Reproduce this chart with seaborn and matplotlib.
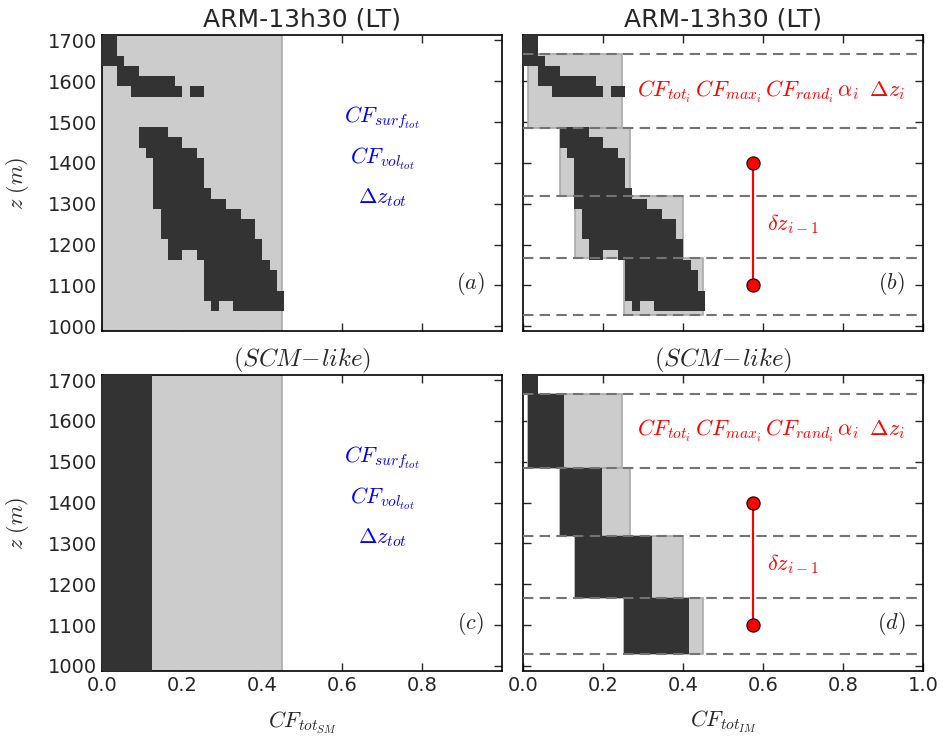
import numpy as np
import pandas as pd
import seaborn as sns
import matplotlib.pyplot as plt

sns.set_style("ticks", {"xtick.direction": "in", "ytick.direction": "in"})
plt.rcParams['font.family'] = ['DejaVu Sans']
plt.rcParams['mathtext.fontset'] = 'cm'

# cloud mask: row centre height (m) and cloudy column spans
# (columns are 1/55 wide in CF units, rows are 25 m thick)
mask_z = [1700, 1675, 1650, 1625, 1600, 1575,
          1475, 1450, 1425, 1400, 1375, 1350, 1325, 1300, 1275, 1250,
          1225, 1200, 1175, 1150, 1125, 1100, 1075, 1050]
mask_spans = [[(0, 2)], [(0, 2)], [(0, 3)], [(2, 5)], [(2, 10)], [(4, 11), (12, 14)],
              [(5, 9)], [(5, 11)], [(6, 13)], [(7, 14)], [(7, 14)], [(7, 14)],
              [(7, 15)], [(7, 17)], [(8, 19)], [(8, 21)], [(8, 21)], [(9, 22)],
              [(9, 11), (13, 22)], [(14, 23)], [(14, 24)], [(14, 24)], [(14, 25)],
              [(15, 16), (18, 25)]]
col_w = 1.0 / 55
row_h = 25.0

cf_surf_tot = 0.45
cf_vol_tot = 0.124

# layers (panels b, d)
layer_edges = [1667, 1485, 1319, 1166, 1028]
layer_x0 = [0.011, 0.092, 0.129, 0.2525]
layer_cf_tot = [0.235, 0.175, 0.269, 0.1975]
layer_cf_max = [0.0915, 0.1055, 0.192, 0.1615]
top_cap_z = 1712.5
top_cap_cf = 0.036

dz_x = 0.575
dz_z = [1100, 1400]

dark = '#333333'
light = '#cccccc'
light_edge = '#aaaaaa'

segs = pd.DataFrame([(z, a * col_w, (b - a) * col_w)
                     for z, sp in zip(mask_z, mask_spans) for a, b in sp],
                    columns=['z', 'left', 'width'])

fig = plt.figure(figsize=(9.43, 7.4), dpi=100)
L1, L2, W = 0.1085, 0.555, 0.4242
B1, B2, H = 0.5522, 0.0932, 0.4001
ax_a = fig.add_axes([L1, B1, W, H])
ax_b = fig.add_axes([L2, B1, W, H])
ax_c = fig.add_axes([L1, B2, W, H])
ax_d = fig.add_axes([L2, B2, W, H])


def style(ax):
    ax.set_xlim(0, 1)
    ax.set_ylim(987.5, 1712.5)
    ax.set_yticks(range(1000, 1701, 100))
    ax.tick_params(top=True, right=True, direction='in', length=6, width=1,
                   labelsize=14)
    for s in ax.spines.values():
        s.set_linewidth(1.2)
        s.set_color('k')


def draw_mask(ax):
    ax.barh(segs.z, segs.width, height=row_h, left=segs.left, color=dark,
            linewidth=0, zorder=3)


def draw_layers(ax, with_max):
    lo = np.array(layer_edges[1:])
    hi = np.array(layer_edges[:-1])
    ax.barh((lo + hi) / 2, layer_cf_tot, height=hi - lo, left=layer_x0,
            color=light, edgecolor=light_edge, linewidth=1.2, zorder=2)
    if with_max:
        ax.barh((lo + hi) / 2, layer_cf_max, height=hi - lo, left=layer_x0,
                color=dark, linewidth=0, zorder=3)
        ax.barh((top_cap_z + layer_edges[0]) / 2, top_cap_cf,
                height=top_cap_z - layer_edges[0], left=0, color=dark,
                linewidth=0, zorder=3)
    for z in layer_edges:
        ax.axhline(z, color='0.45', lw=1.5, ls=(0, (5, 3)), zorder=5)
    ax.plot([dz_x, dz_x], dz_z, color='red', lw=1.5, zorder=6)
    sns.scatterplot(x=[dz_x, dz_x], y=dz_z, ax=ax, color='red', s=90,
                    edgecolor='k', linewidth=0.8, zorder=7)
    ax.text(0.283, 1575, r'$CF_{tot_i}\,CF_{max_i}\,CF_{rand_i}\,\alpha_i\;\;\Delta z_i$',
            color='red', fontsize=16, ha='left', va='center')
    ax.text(0.608, 1250, r'$\delta z_{i-1}$', color='red', fontsize=16,
            ha='left', va='center')


def draw_single(ax, dark_cf):
    ax.barh((987.5 + 1712.5) / 2, cf_surf_tot, height=725, left=0, color=light,
            edgecolor=light_edge, linewidth=1.2, zorder=2)
    if dark_cf:
        ax.barh((987.5 + 1712.5) / 2, dark_cf, height=725, left=0, color=dark,
                linewidth=0, zorder=3)
    for z, s in zip([1510, 1410, 1315],
                    [r'$CF_{surf_{tot}}$', r'$CF_{vol_{tot}}$', r'$\Delta z_{tot}$']):
        ax.text(0.70, z, s, color='blue', fontsize=16, ha='center', va='center')


draw_single(ax_a, 0)
draw_mask(ax_a)
draw_layers(ax_b, False)
draw_mask(ax_b)
draw_single(ax_c, cf_vol_tot)
draw_layers(ax_d, True)

for ax, lab in zip([ax_a, ax_b, ax_c, ax_d], ['a', 'b', 'c', 'd']):
    style(ax)
    ax.text(0.92, 1105, '$(%s)$' % lab, fontsize=16, ha='center', va='center')

for ax in [ax_a, ax_b]:
    ax.set_title('ARM-13h30 (LT)', fontsize=18, pad=6)
for ax in [ax_c, ax_d]:
    ax.set_title(r'$(SCM\!-\!like)$', fontsize=18, pad=6)
for ax in [ax_b, ax_d]:
    ax.set_yticklabels([])
for ax in [ax_a, ax_c]:
    ax.set_xticks([0, 0.2, 0.4, 0.6, 0.8])
    ax.set_ylabel(r'$z\ (m)$', fontsize=16, labelpad=12)
ax_a.set_xticklabels([])
ax_b.set_xticklabels([])
ax_c.set_xlabel(r'$CF_{tot_{SM}}$', fontsize=16, labelpad=10)
ax_d.set_xlabel(r'$CF_{tot_{IM}}$', fontsize=16, labelpad=10)

fig.savefig('out.png', dpi=100)
